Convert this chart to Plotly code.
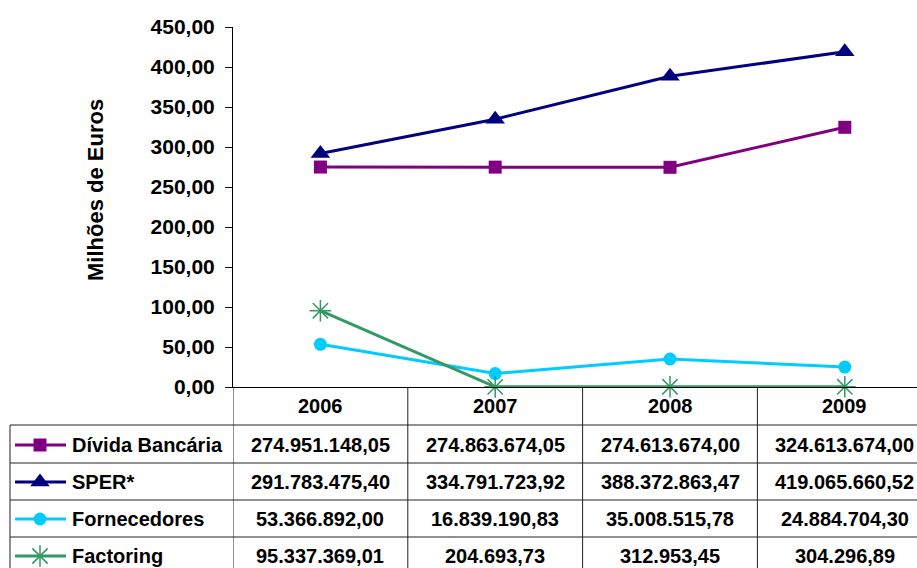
import plotly.graph_objects as go

# ---------------- data ----------------
years = ["2006", "2007", "2008", "2009"]
series_names = ["Dívida Bancária", "SPER*", "Fornecedores", "Factoring"]
divida = [274951148.05, 274863674.05, 274613674.00, 324613674.00]
sper = [291783475.40, 334791723.92, 388372863.47, 419065660.52]
fornecedores = [53366892.00, 16839190.83, 35008515.78, 24884704.30]
factoring = [95337369.01, 204693.73, 312953.45, 304296.89]
y_ticks = [0, 50, 100, 150, 200, 250, 300, 350, 400, 450]

series_values = [divida, sper, fornecedores, factoring]
colors = ["#800080", "#000080", "#00CCFF", "#339966"]
symbols = ["square", "triangle-up", "circle", "asterisk-open"]
msizes = [13, 17, 13, 18]

W, H = 917, 568
FONT = "Liberation Sans, Arial, sans-serif"

def pt(v):
    s = f"{v:,.2f}"
    return s.replace(",", "X").replace(".", ",").replace("X", ".")

# layout geometry (pixels)
plot_left, plot_top, plot_bottom = 233, 27, 387
col_w = 174.8
xs = list(range(len(years)))
x_range = [-0.5, -0.5 + (W - plot_left) / col_w]

fig = go.Figure()

for name, vals, c, sym, ms in zip(series_names, series_values, colors, symbols, msizes):
    fig.add_trace(go.Scatter(
        x=xs, y=[v / 1e6 for v in vals], mode="lines+markers", name=name,
        line=dict(color=c, width=3),
        marker=dict(symbol=sym, size=ms, color=c,
                    line=dict(color=c, width=1.5 if sym == "asterisk-open" else 0)),
        cliponaxis=False, showlegend=False, xaxis="x", yaxis="y"))

# table row geometry
header_top, header_bot = 387, 425
row_lines = [425, 463, 500, 537, 575]
row_centers = [445, 482, 519, 556]
table_left = 10

# legend keys inside the table (pixel axes)
for i, (c, sym, ms) in enumerate(zip(colors, symbols, msizes)):
    yc = row_centers[i]
    fig.add_trace(go.Scatter(
        x=[15, 40, 66], y=[yc, yc, yc], mode="lines",
        line=dict(color=c, width=3), showlegend=False, hoverinfo="skip",
        xaxis="x2", yaxis="y2", cliponaxis=False))
    fig.add_trace(go.Scatter(
        x=[40], y=[yc], mode="markers",
        marker=dict(symbol=sym, size=ms, color=c,
                    line=dict(color=c, width=1.5 if sym == "asterisk-open" else 0)),
        showlegend=False, hoverinfo="skip", xaxis="x2", yaxis="y2", cliponaxis=False))

shapes = []
line_style = dict(color="#222222", width=1)
for k in range(len(years) + 1):
    shapes.append(dict(type="line", xref="x", yref="y2", x0=k - 0.5, x1=k - 0.5,
                       y0=header_top, y1=H + 5, line=line_style, layer="below"))
shapes.append(dict(type="line", xref="x2", yref="y2", x0=table_left, x1=table_left,
                   y0=header_bot, y1=H + 5, line=line_style))
for yl in row_lines:
    shapes.append(dict(type="line", xref="x2", yref="y2", x0=table_left, x1=W + 5,
                       y0=yl, y1=yl, line=line_style))

annotations = []
tfont = dict(family=FONT, size=20, color="#000000")
for j, yr in enumerate(years):
    annotations.append(dict(x=j, y=(header_top + header_bot) / 2, xref="x", yref="y2",
                            text=f"<b>{yr}</b>", showarrow=False, font=tfont,
                            xanchor="center", yanchor="middle"))
for i, (name, vals) in enumerate(zip(series_names, series_values)):
    annotations.append(dict(x=70, y=row_centers[i], xref="x2", yref="y2",
                            text=f"<b>{name}</b>", showarrow=False, font=tfont,
                            xanchor="left", yanchor="middle"))
    for j, v in enumerate(vals):
        annotations.append(dict(x=j, y=row_centers[i], xref="x", yref="y2",
                                text=f"<b>{pt(v)}</b>", showarrow=False, font=tfont,
                                xanchor="center", yanchor="middle"))
annotations.append(dict(x=95, y=190, xref="x2", yref="y2", text="<b>Milhões de Euros</b>",
                        showarrow=False, textangle=-90,
                        font=dict(family=FONT, size=22, color="#000000"),
                        xanchor="center", yanchor="middle"))

fig.update_layout(
    width=W, height=H, margin=dict(l=0, r=0, t=0, b=0, autoexpand=False),
    paper_bgcolor="white", plot_bgcolor="rgba(0,0,0,0)",
    separators=",.",
    xaxis=dict(domain=[plot_left / W, 1], range=x_range, showgrid=False, zeroline=False,
               showline=True, linecolor="#000000", linewidth=1, showticklabels=False,
               ticks="", fixedrange=True, anchor="y"),
    yaxis=dict(domain=[(H - plot_bottom) / H, (H - plot_top) / H], range=[0, 450],
               tickvals=y_ticks, tickformat=".2f",
               showgrid=False, zeroline=False, automargin=False,
               showline=True, linecolor="#000000", linewidth=1, ticks="outside",
               ticklen=7, tickcolor="#000000", anchor="x", ticklabelstandoff=6,
               tickfont=dict(family=FONT, size=21, color="#000000", weight="bold"),
               fixedrange=True),
    xaxis2=dict(domain=[0, 1], range=[0, W], visible=False, anchor="y2", fixedrange=True),
    yaxis2=dict(domain=[0, 1], range=[H, 0], visible=False, anchor="x2", fixedrange=True),
    shapes=shapes, annotations=annotations,
)

fig.write_html("out.html")
